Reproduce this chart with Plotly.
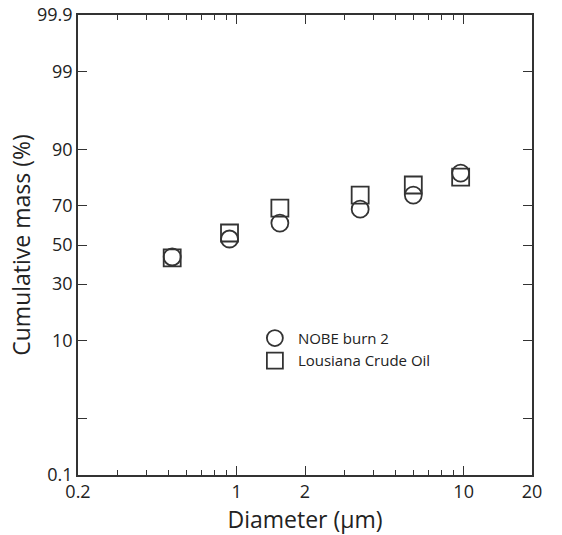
import plotly.graph_objects as go
from statistics import NormalDist

# diameters (um) and cumulative mass (%)
diam = [0.52, 0.93, 1.55, 3.5, 6.0, 9.7]
nobe_burn2 = [43.6, 53.2, 61.6, 68.5, 74.9, 83.3]
louisiana_crude = [43.1, 56.4, 69.0, 74.9, 79.0, 81.9]

y_ticks = [0.1, 1, 10, 30, 50, 70, 90, 99, 99.9]
y_labels = ['0.1', '', '10', '30', '50', '70', '90', '99', '99.9']
x_ticks = [0.2, 1, 2, 10, 20]
x_minor = [0.3, 0.4, 0.5, 0.6, 0.7, 0.8, 0.9, 3, 4, 5, 6, 7, 8, 9]

nd = NormalDist()


def probit(pct):
    # probability scale: percent -> standard normal quantile
    return [nd.inv_cdf(p / 100.0) for p in pct]


ink = '#333333'
fig = go.Figure()
fig.add_trace(go.Scatter(
    x=diam, y=probit(nobe_burn2), mode='markers', name='NOBE burn 2',
    marker=dict(symbol='circle-open', size=17, color=ink, line=dict(width=1.8, color=ink)),
))
fig.add_trace(go.Scatter(
    x=diam, y=probit(louisiana_crude), mode='markers', name='Lousiana Crude Oil',
    marker=dict(symbol='square-open', size=17, color=ink, line=dict(width=1.8, color=ink)),
))

zlo, zhi = probit([0.1, 99.9])

fig.update_layout(
    width=562, height=535,
    margin=dict(l=78, r=30, t=15, b=60),
    plot_bgcolor='white', paper_bgcolor='white',
    font=dict(family='Open Sans, Lato, sans-serif', color='#222222'),
    showlegend=True,
    legend=dict(x=0.383, y=0.333, xanchor='left', yanchor='top', itemwidth=36,
                bgcolor='rgba(0,0,0,0)', font=dict(size=15, color='#222222')),
)
fig.update_xaxes(
    type='log', range=[-0.69897, 1.30103], automargin=False,
    tickmode='array', tickvals=x_ticks, ticktext=[str(v) for v in x_ticks],
    ticks='inside', ticklen=9, tickwidth=1.3, tickcolor=ink,
    minor=dict(tickmode='array', tickvals=x_minor, ticks='inside', ticklen=5,
               tickwidth=1.2, tickcolor=ink, showgrid=False),
    showline=True, linecolor=ink, linewidth=1.5, mirror='ticks',
    showgrid=False, zeroline=False,
    tickfont=dict(size=18), title=dict(text='Diameter (μm)', font=dict(size=23), standoff=0),
)
fig.update_yaxes(
    range=[zlo - 1e-9, zhi + 1e-9], automargin=False,
    tickmode='array', tickvals=probit(y_ticks), ticktext=y_labels,
    ticks='inside', ticklen=9, tickwidth=1.3, tickcolor=ink,
    showline=True, linecolor=ink, linewidth=1.5, mirror='ticks',
    showgrid=False, zeroline=False,
    tickfont=dict(size=18), title=dict(text='Cumulative mass (%)', font=dict(size=23), standoff=0),
)

# drop the page's default 8px body margin so the figure sits at the window corner
fig.write_html('out.html', config={'displayModeBar': False},
               post_script="document.body.style.margin = '0';")
